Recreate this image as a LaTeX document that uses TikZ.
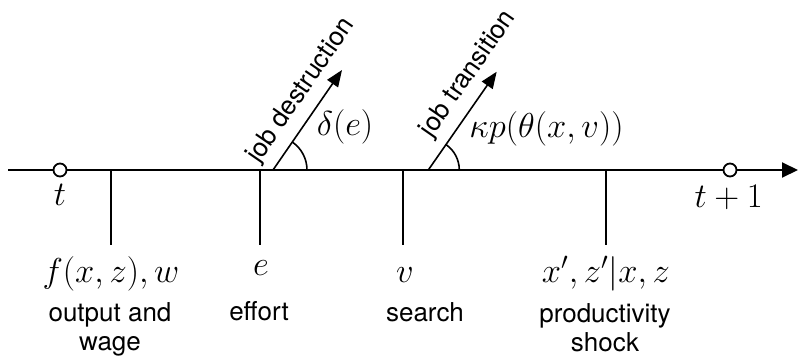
\documentclass[tikz,border=0pt]{standalone}
\usepackage{amsmath}
\usepackage{fontspec}
\setsansfont{TeX Gyre Heros}
\usetikzlibrary{arrows.meta,positioning}

\begin{document}
\begin{tikzpicture}[x=0.5pt,y=0.5pt,
timeline/.style={line width=1pt,-{Triangle[length=8pt,width=7.5pt]}},
stem/.style={line width=0.9pt},
flow/.style={line width=0.8pt,-{Triangle[length=8.3pt,width=6.5pt]}},
arcline/.style={line width=0.8pt},
period/.style={circle,draw,line width=0.9pt,fill=white,inner sep=0pt,minimum size=6.5pt},
var/.style={font=\fontsize{17.2}{20}\selectfont,inner sep=0pt,anchor=base},
desc/.style={font=\sffamily\fontsize{13}{14.5}\selectfont,align=center,inner sep=0pt,anchor=base},
tilt/.style={font=\sffamily\fontsize{13}{15}\selectfont,sloped,above=1pt}]
\useasboundingbox (0,0) rectangle (798,360);
\coordinate (start) at (8,190);
\coordinate (end) at (798,190);
\draw[timeline] (start) -- (end);
\node[period] (t0) at (60,190) {};
\node[period] (t1) at (730,190) {};
\node[var] (lt0) at (60,155) {$t$};
\node[var] (lt1) at (728.7,153) {$t+1$};
\coordinate (top1) at (111,190); \coordinate (bot1) at (111,115);
\coordinate (top2) at (260,190); \coordinate (bot2) at (260,115);
\coordinate (top3) at (403,190); \coordinate (bot3) at (403,115);
\coordinate (top4) at (606,190); \coordinate (bot4) at (606,115);
\draw[stem] (top1)--(bot1); \draw[stem] (top2)--(bot2);
\draw[stem] (top3)--(bot3); \draw[stem] (top4)--(bot4);
\node[var] (out) at (111,78) {$f(x,z),w$};
\node[var] (eff) at (261,85) {$e$};
\node[var] (srch) at (405,78) {$v$};
\node[var] (shk) at (606,78) {$x',z'|x,z$};
\node[desc] (outd) at (110,9.5) {output and\\wage};
\node[desc] (effd) at (259,40) {effort};
\node[desc] (srchd) at (425,38.3) {search};
\node[desc] (shkd) at (605,8.5) {productivity\\shock};
\coordinate (d0) at (273,190); \coordinate (d1) at (342,290);
\coordinate (k0) at (428.3,190); \coordinate (k1) at (496.7,288.3);
\draw[flow] (d0) -- node[tilt,pos=.67] {job destruction} (d1);
\draw[flow] (k0) -- node[tilt,pos=.85] {job transition} (k1);
\draw[arcline] (d0) ++(17pt,0) arc[start angle=0,end angle=55.4,radius=17pt];
\draw[arcline] (k0) ++(15.5pt,0) arc[start angle=0,end angle=55.2,radius=15.5pt];
\node[var] (delta) at (345,225) {$\delta(e)$};
\node[var] (kappa) at (546.5,223) {$\kappa p(\theta(x,v))$};
\end{tikzpicture}
\end{document}
